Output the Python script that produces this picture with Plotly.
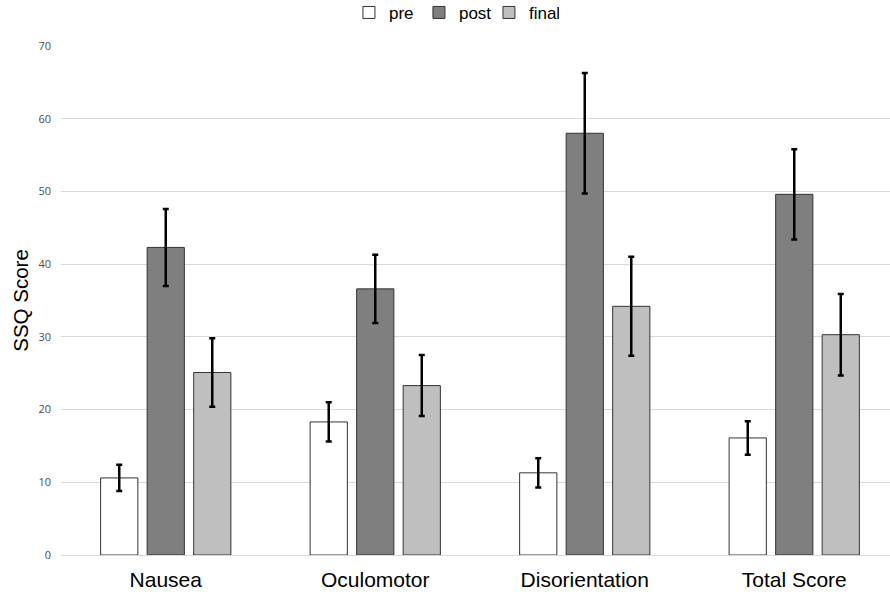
import plotly.graph_objects as go

# --------------------------------------------------------
# Data (SSQ scores, mean +/- error)
# --------------------------------------------------------

categories = ["Nausea", "Oculomotor", "Disorientation", "Total Score"]

pre = [10.6, 18.3, 11.3, 16.1]
pre_err = [1.8, 2.7, 2.0, 2.3]

post = [42.3, 36.6, 58.0, 49.6]
post_err = [5.3, 4.7, 8.3, 6.2]

final = [25.1, 23.3, 34.2, 30.3]
final_err = [4.7, 4.2, 6.8, 5.6]

y_ticks = [0, 10, 20, 30, 40, 50, 60, 70]


# --------------------------------------------------------
# Figure
# --------------------------------------------------------

fig = go.Figure()

series = [
    ("pre", pre, pre_err, "#ffffff"),
    ("post", post, post_err, "#7f7f7f"),
    ("final", final, final_err, "#bfbfbf"),
]

for name, values, errs, color in series:
    fig.add_trace(
        go.Bar(
            x=categories,
            y=values,
            name=name,
            marker=dict(
                color=color,
                line=dict(color="#333333", width=1)
            ),
            error_y=dict(
                type="data",
                array=errs,
                color="#000000",
                thickness=2.5,
                width=3
            )
        )
    )

fig.update_layout(
    width=890,
    height=596,
    barmode="group",
    bargap=0.334,
    bargroupgap=0.2,
    plot_bgcolor="white",
    paper_bgcolor="white",
    margin=dict(l=61, r=0, t=46, b=41, autoexpand=False),
    font=dict(family="Liberation Sans, Arial, sans-serif", color="#000000"),
    showlegend=True,
    legend=dict(
        orientation="h",
        x=0.474,
        xanchor="center",
        y=1.065,
        yanchor="middle",
        font=dict(size=17),
        itemwidth=30,
        entrywidth=25,
        tracegroupgap=0
    ),
    xaxis=dict(
        # the original chart's plot area runs a little past the right edge
        range=[-0.5, 3.457],
        showgrid=False,
        showline=False,
        ticks="",
        ticklabelstandoff=10,
        tickfont=dict(size=21, color="#000000")
    ),
    yaxis=dict(
        range=[0, 70],
        tickvals=y_ticks,
        showgrid=True,
        gridcolor="#d9d9d9",
        gridwidth=1,
        zeroline=True,
        zerolinecolor="#d9d9d9",
        zerolinewidth=1,
        showline=False,
        ticks="",
        ticklabelstandoff=9,
        tickfont=dict(size=11, family="Open Sans, sans-serif", color="#4d4d4d"),
        title=dict(
            text="SSQ Score",
            font=dict(size=20.5, color="#000000"),
            standoff=4
        )
    )
)

# drop the page's default body margin so the figure sits at the top-left corner
fig.write_html(
    "out.html",
    config={"displayModeBar": False},
    post_script="document.body.style.margin = '0';"
)
